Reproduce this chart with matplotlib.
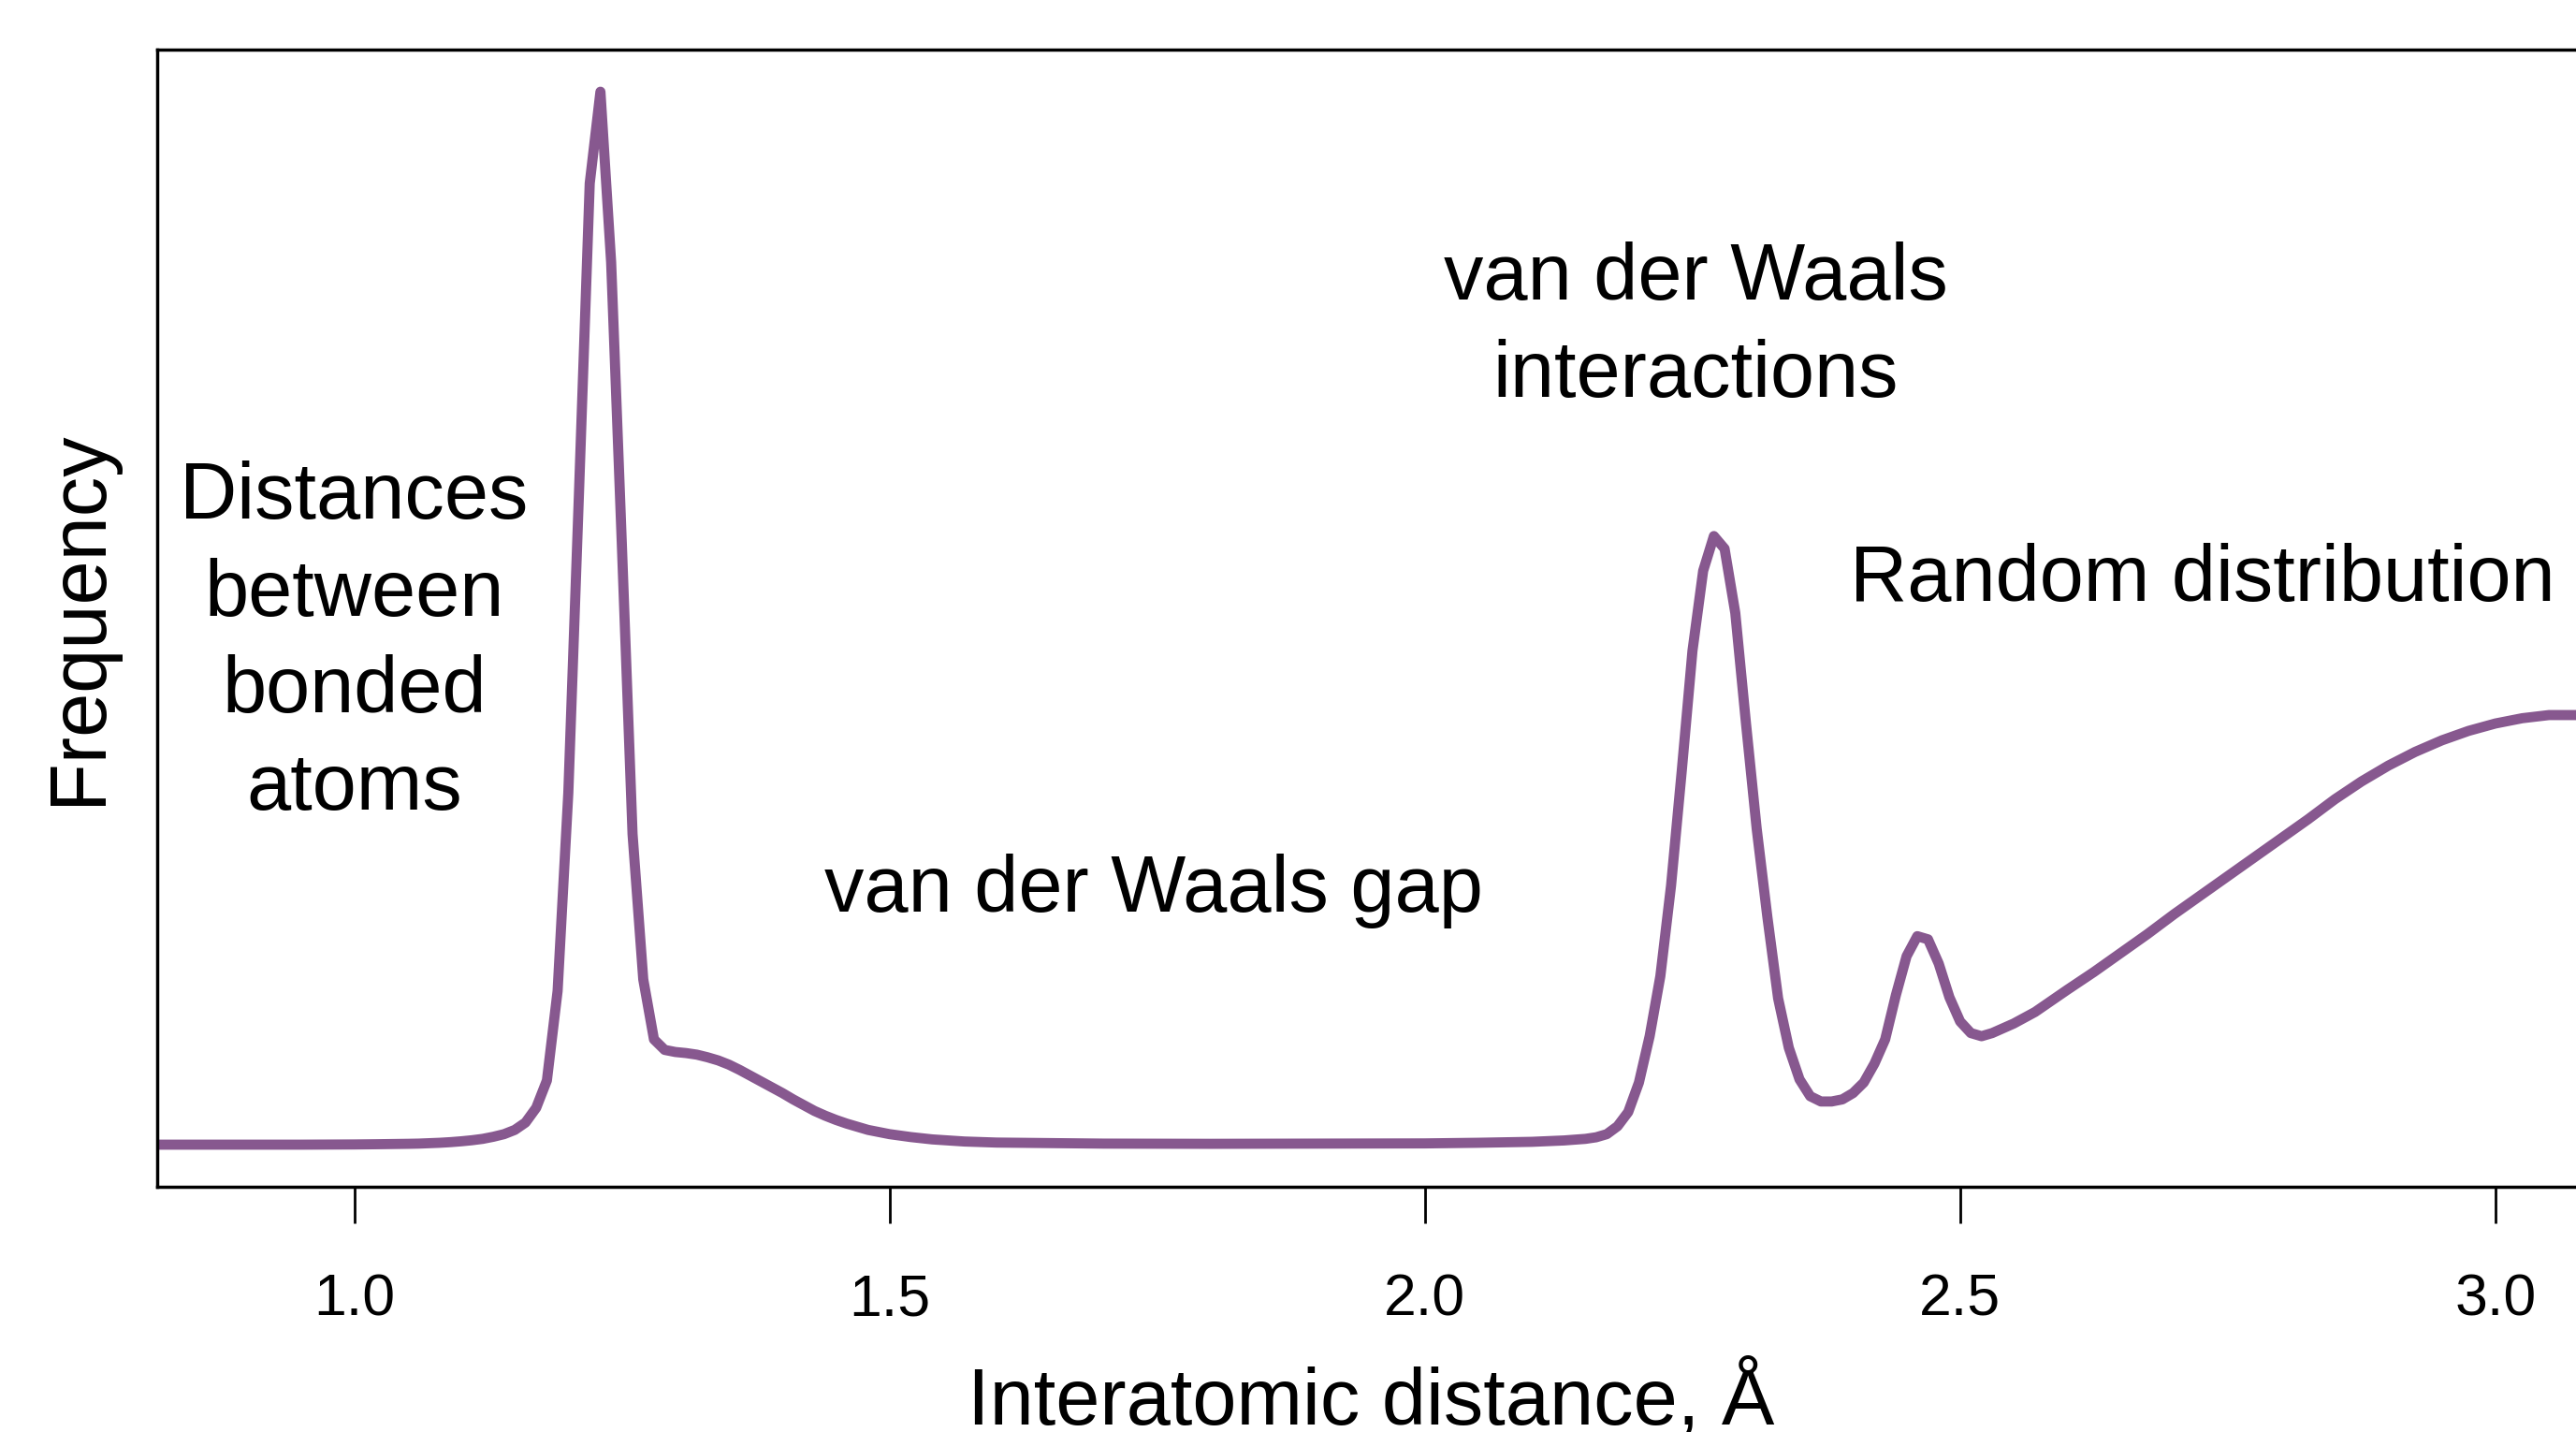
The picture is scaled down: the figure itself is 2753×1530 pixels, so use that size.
import numpy as np
import matplotlib.pyplot as plt

plt.rcParams['font.family'] = ['Liberation Sans', 'DejaVu Sans']

# interatomic distance (Angstrom) and relative frequency
distance = [0.80, 0.95, 1.00, 1.02, 1.05, 1.06, 1.08, 1.09, 1.10, 1.11, 1.12,
            1.13, 1.14, 1.15, 1.16, 1.17,
            1.18, 1.19, 1.20, 1.21, 1.22, 1.23, 1.24, 1.25, 1.26, 1.27, 1.28,
            1.29, 1.30, 1.31, 1.32, 1.33, 1.34, 1.35, 1.36, 1.37, 1.38, 1.39,
            1.40, 1.41, 1.42, 1.43, 1.44, 1.45, 1.46, 1.47, 1.48, 1.49,
            1.50, 1.52, 1.54, 1.57, 1.60, 1.70, 1.80, 1.90, 2.00, 2.05, 2.10,
            2.13, 2.15,
            2.16, 2.17, 2.18, 2.19, 2.20, 2.21, 2.22, 2.23, 2.24, 2.25, 2.26,
            2.27, 2.28, 2.29, 2.30, 2.31, 2.32, 2.33, 2.34, 2.35, 2.36, 2.37,
            2.38, 2.39, 2.40, 2.41, 2.42, 2.43, 2.44, 2.45, 2.46, 2.47, 2.48,
            2.49, 2.50, 2.51, 2.52, 2.53, 2.55, 2.57, 2.60, 2.625, 2.65, 2.675,
            2.70, 2.725, 2.75, 2.775, 2.80, 2.825, 2.85, 2.875, 2.90, 2.925,
            2.95, 2.975, 3.00, 3.025, 3.05, 3.075, 3.10]
frequency = [0.0, 0.0, 0.02, 0.04, 0.08, 0.1, 0.18, 0.24, 0.32, 0.42, 0.55,
             0.75, 1.0, 1.4, 2.1, 3.5,
             6.1, 14.6, 33.4, 62.0, 91.3, 100.0, 83.8, 57.0, 29.5, 15.7, 10.0,
             9.0, 8.8, 8.7, 8.55, 8.3, 8.0, 7.6, 7.1, 6.55, 6.0, 5.45,
             4.9, 4.3, 3.75, 3.2, 2.75, 2.35, 2.0, 1.7, 1.4, 1.2,
             1.0, 0.72, 0.5, 0.3, 0.2, 0.1, 0.08, 0.1, 0.12, 0.18, 0.27,
             0.4, 0.55,
             0.7, 1.0, 1.75, 3.1, 5.9, 10.3, 16.0, 24.6, 35.5, 46.9, 54.5,
             57.8, 56.6, 50.5, 40.0, 30.0, 21.6, 13.9, 9.2, 6.2, 4.6, 4.1,
             4.1, 4.3, 4.9, 5.9, 7.7, 10.0, 14.2, 17.9, 19.8, 19.5, 17.2,
             14.0, 11.7, 10.6, 10.3, 10.6, 11.5, 12.6, 14.7, 16.4, 18.2, 20.0,
             21.9, 23.7, 25.5, 27.3, 29.1, 30.9, 32.8, 34.5, 36.0, 37.3,
             38.4, 39.3, 40.0, 40.5, 40.8, 40.8, 40.7]

tick_values = [1.0, 1.5, 2.0, 2.5, 3.0]
tick_labels = ['1.0', '1.5', '2.0', '2.5', '3.0']

labels = ['Distances\nbetween\nbonded\natoms', 'van der Waals gap',
          'van der Waals\ninteractions', 'Random distribution']
label_x = [1.0, 1.747, 2.253, 2.726]
label_y = [47.6, 24.1, 77.6, 53.6]

fig = plt.figure(figsize=(27.53, 15.30), dpi=100)
ax = fig.add_axes([168 / 2753, 262 / 1530, 2595 / 2753, 1215 / 1530])

ax.plot(distance, frequency, color='#87588F', lw=7.8, solid_joinstyle='round',
        solid_capstyle='round')

ax.set_xlim(0.816, 3.084)
ax.set_ylim(-4, 104)
ax.set_yticks([])
ax.set_xticks(tick_values)
ax.set_xticklabels(tick_labels, fontsize=45)
ax.tick_params(axis='x', direction='out', length=28, width=2, pad=38)
for s in ax.spines.values():
    s.set_linewidth(2.5)
    s.set_color('black')

for t, x, y in zip(labels, label_x, label_y):
    ax.text(x, y, t, fontsize=61, ha='center', va='center', linespacing=1.38)

fig.text(1465 / 2753, 8 / 1530, 'Interatomic distance, Å', fontsize=61,
         ha='center', va='baseline')
fig.text(85 / 2753, 870 / 1530, 'Frequency', fontsize=61, rotation=90,
         ha='center', va='center')

fig.savefig('out.png', dpi=100)
